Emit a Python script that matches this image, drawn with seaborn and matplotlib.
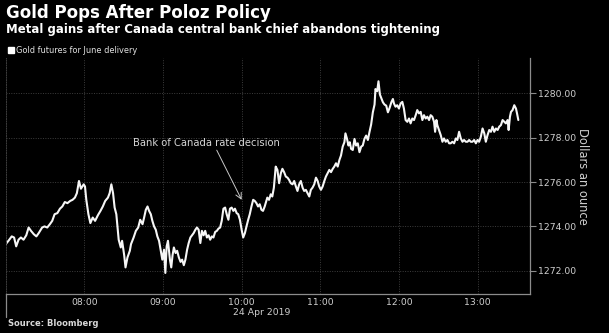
import numpy as np
import pandas as pd
import matplotlib
matplotlib.use("Agg")
import matplotlib.pyplot as plt
import matplotlib.dates as mdates
from matplotlib.lines import Line2D
import seaborn as sns

sns.set_theme(style="dark")
plt.rcParams['font.family'] = ['DejaVu Sans']

# ---- data: minutes after 07:00 (24 Apr 2019) and gold futures price ----
morning_minutes = [0.0, 2.1, 4.6, 6.4, 8.0, 9.8, 11.6, 13.6, 15.7, 17.5, 19.3, 21.4, 23.4, 25.2, 27.8,
                   29.6, 31.7, 33.7, 35.5, 37.3, 39.4, 41.4, 43.2, 45.1, 47.1, 49.2, 51.0, 52.8, 54.3, 55.9,
                   57.4, 59.5, 60.5, 61.5, 63.1, 64.6, 66.4, 68.2, 70.3, 72.3, 74.1, 75.9, 78.0, 79.3, 80.6,
                   81.9, 83.1, 84.4, 86.2, 87.8, 88.8, 90.4, 91.4, 92.9, 94.7]
morning_prices = [1273.2, 1273.35, 1273.55, 1273.5, 1273.1, 1273.4, 1273.5, 1273.4, 1273.6, 1273.95,
                  1273.8, 1273.65, 1273.55, 1273.7, 1273.95, 1274.0, 1273.95, 1274.1, 1274.25, 1274.55,
                  1274.6, 1274.8, 1274.9, 1275.1, 1275.05, 1275.15, 1275.2, 1275.3, 1275.5, 1276.05,
                  1275.7, 1275.9, 1275.8, 1275.2, 1274.55, 1274.15, 1274.4, 1274.25, 1274.5, 1274.7,
                  1274.9, 1275.15, 1275.3, 1275.5, 1275.9, 1275.5, 1274.85, 1274.55, 1273.4, 1273.05,
                  1273.35, 1272.7, 1272.15, 1272.6, 1272.9]

decision_minutes = [95.6, 97.6, 99.3, 101.1, 102.6, 104.4, 105.6, 106.9, 108.2, 109.4, 110.7, 111.9, 113.2,
                    114.5, 115.7, 117.0, 118.2, 119.5, 120.8, 121.8, 122.8, 123.8, 125.3, 126.3, 127.3,
                    128.3, 129.6, 130.8, 132.1, 133.4, 134.6, 135.9, 137.1, 138.4, 139.6, 140.9, 142.2,
                    143.4, 144.7, 145.9, 147.2, 148.5, 149.7, 151.0, 152.2, 153.5, 154.8, 156.0, 157.3,
                    158.5, 159.8, 161.1, 162.3, 163.6, 164.8, 166.1, 167.4, 168.6, 169.9, 171.1, 172.4,
                    173.7, 174.9, 176.2, 177.4, 178.7, 180.0, 181.2, 182.5, 183.7, 185.0, 186.2, 187.5,
                    188.8, 190.0, 191.3, 192.5, 193.8, 195.1, 196.3, 197.6]
decision_prices = [1273.2, 1273.5, 1273.8, 1273.95, 1274.3, 1274.1, 1274.4, 1274.75, 1274.9, 1274.7,
                   1274.55, 1274.25, 1274.0, 1273.85, 1273.55, 1273.35, 1272.95, 1272.5, 1272.95, 1271.9,
                   1273.1, 1273.35, 1272.5, 1272.15, 1272.7, 1273.05, 1272.8, 1272.9, 1272.6, 1272.4,
                   1272.5, 1272.25, 1272.5, 1272.95, 1273.25, 1273.5, 1273.6, 1273.7, 1273.85, 1273.95,
                   1273.85, 1273.25, 1273.8, 1273.6, 1273.8, 1273.5, 1273.6, 1273.4, 1273.55, 1273.5,
                   1273.75, 1273.8, 1273.9, 1273.95, 1274.25, 1274.8, 1274.85, 1274.55, 1274.3, 1274.8,
                   1274.85, 1274.7, 1274.8, 1274.6, 1274.55, 1274.3, 1273.85, 1273.5, 1273.7, 1274.0,
                   1274.3, 1274.55, 1274.9, 1275.2, 1275.15, 1275.05, 1274.9, 1275.0, 1274.75, 1274.7,
                   1274.9]

rally_minutes = [199.6, 200.9, 202.2, 203.4, 204.6, 206.0, 207.3, 208.6, 209.9, 211.1, 212.4, 213.7, 215.0,
                 216.2, 217.5, 218.8, 220.1, 221.4, 222.6, 223.9, 225.2, 226.5, 227.7, 229.0, 230.3,
                 231.6, 232.8, 234.1, 235.4, 236.7, 238.0, 239.2, 240.5, 241.8, 243.1, 244.3, 245.6,
                 246.9, 248.2, 249.5, 250.7, 252.0, 253.3, 254.6, 255.8, 257.1, 258.4, 259.2, 260.4,
                 261.5, 262.5, 263.5, 264.8, 266.1, 267.3, 268.6, 269.9, 271.2, 272.4, 273.7, 275.0,
                 276.3, 277.5, 278.8, 280.1, 281.4, 282.1, 283.4, 284.4, 285.5, 286.5, 287.8, 289.0,
                 290.3, 291.6, 292.9, 294.2, 295.4]
rally_prices = [1275.3, 1275.2, 1275.45, 1275.35, 1275.75, 1276.7, 1276.55, 1275.95, 1276.4, 1276.6,
                1276.45, 1276.25, 1276.2, 1276.1, 1275.95, 1275.9, 1276.05, 1275.8, 1275.6, 1275.9,
                1276.05, 1275.75, 1275.6, 1275.65, 1275.5, 1275.35, 1275.65, 1275.75, 1275.9, 1276.2,
                1276.05, 1275.8, 1275.65, 1275.8, 1276.05, 1276.25, 1276.4, 1276.55, 1276.45, 1276.6,
                1276.7, 1276.85, 1276.7, 1277.0, 1277.2, 1277.6, 1277.8, 1278.2, 1277.95, 1277.65,
                1277.8, 1277.5, 1277.45, 1277.95, 1277.65, 1277.75, 1277.35, 1277.6, 1277.65, 1277.95,
                1278.1, 1277.9, 1278.25, 1278.6, 1279.15, 1279.5, 1280.2, 1280.1, 1280.55, 1279.95,
                1279.8, 1279.6, 1279.5, 1279.45, 1279.15, 1279.35, 1279.6, 1279.75]

afternoon_minutes = [296.2, 297.4, 298.7, 300.0, 301.3, 302.6, 303.8, 305.1, 306.4, 307.7, 308.9, 310.2,
                     311.5, 312.8, 314.0, 315.3, 316.6, 317.9, 319.1, 320.4, 321.7, 323.0, 324.2, 325.5,
                     326.8, 327.6, 328.6, 329.3, 330.6, 331.9, 333.2, 334.4, 335.7, 337.0, 338.3, 339.5,
                     340.8, 342.1, 343.4, 344.6, 345.9, 347.2, 348.5, 349.7, 351.0, 352.3, 353.6, 354.8,
                     356.1, 357.4, 358.7, 360.0, 361.2, 362.5, 363.8, 365.1, 366.3, 367.6, 368.9, 370.2,
                     371.4, 372.7, 374.0, 375.3, 376.5, 377.8, 379.1, 380.4, 381.6, 382.9, 383.7, 384.7,
                     385.5, 386.7, 388.0, 389.3, 390.1, 391.1]
afternoon_prices = [1279.55, 1279.4, 1279.47, 1279.32, 1279.55, 1279.62, 1279.32, 1278.8, 1278.72, 1278.87,
                    1278.65, 1278.87, 1278.8, 1279.02, 1279.25, 1279.1, 1279.17, 1278.8, 1279.02, 1278.87,
                    1278.95, 1278.8, 1279.02, 1278.95, 1278.72, 1278.27, 1278.8, 1278.57, 1278.35, 1278.12,
                    1277.82, 1277.97, 1277.82, 1277.9, 1277.75, 1277.75, 1277.82, 1277.75, 1277.97, 1277.9,
                    1278.27, 1277.97, 1277.82, 1277.9, 1277.82, 1277.82, 1277.9, 1277.82, 1277.82, 1277.9,
                    1277.75, 1277.9, 1277.82, 1278.05, 1278.42, 1278.2, 1277.82, 1278.12, 1278.35, 1278.27,
                    1278.5, 1278.27, 1278.42, 1278.35, 1278.5, 1278.57, 1278.8, 1278.72, 1278.65, 1278.8,
                    1278.35, 1278.95, 1279.17, 1279.25, 1279.47, 1279.32, 1279.1, 1278.8]

y_ticks = [1272, 1274, 1276, 1278, 1280]
x_tick_hours = ["08:00", "09:00", "10:00", "11:00", "12:00", "13:00"]
day = "2019-04-24"
session_start = "07:00"
session_end = "13:40"
decision_time = "10:00"

title = "Gold Pops After Poloz Policy"
subtitle = "Metal gains after Canada central bank chief abandons tightening"
series_name = "Gold futures for June delivery"
annotation = "Bank of Canada rate decision"
y_label = "Dollars an ounce"
date_label = "24 Apr 2019"
source = "Source: Bloomberg"

# ---- build frame ----
start = pd.Timestamp(f"{day} {session_start}")
minutes = morning_minutes + decision_minutes + rally_minutes + afternoon_minutes
prices = morning_prices + decision_prices + rally_prices + afternoon_prices
df = pd.DataFrame({"time": start + pd.to_timedelta(minutes, unit="min"), "price": prices})

W, H = 609, 333
fig = plt.figure(figsize=(W / 100, H / 100), dpi=100, facecolor="black")
L, R, T, B = 5.7, 530, 58, 294
ax = fig.add_axes([L / W, 1 - B / H, (R - L) / W, (B - T) / H])
ax.set_facecolor("black")

sns.lineplot(data=df, x="time", y="price", ax=ax, color="#f6f6f6", linewidth=1.5,
             estimator=None, legend=False)

ax.set_xlim(start, pd.Timestamp(f"{day} {session_end}"))
ax.set_ylim(1270.95, 1281.6)

grid_color = "#3d3d3d"
axis_color = "#8c8c8c"
text_color = "#cfcfcf"

# y axis on the right
ax.yaxis.tick_right()
ax.yaxis.set_label_position("right")
ax.set_yticks(y_ticks)
ax.set_yticklabels([f"{v:.2f}" for v in y_ticks])
ax.tick_params(axis="y", which="major", colors=text_color, labelsize=6.7, length=4,
               width=0.8, color=axis_color, pad=1.5, right=True, left=False)
ax.set_ylabel(y_label, rotation=-90, color=text_color, fontsize=8.3)
ax.yaxis.label.set_verticalalignment("center")
ax.yaxis.label.set_horizontalalignment("center")
ax.yaxis.label.set_rotation_mode("default")
ax.yaxis.set_label_coords((582.5 - L) / (R - L), (B - 176.7) / (B - T))

# x axis
ax.set_xticks([pd.Timestamp(f"{day} {h}") for h in x_tick_hours])
ax.xaxis.set_major_formatter(mdates.DateFormatter("%H:%M"))
ax.xaxis.set_minor_locator(mdates.MinuteLocator(byminute=[30]))
ax.tick_params(axis="x", which="major", colors=text_color, labelsize=6.7, length=0, pad=3)
ax.tick_params(axis="x", which="minor", length=3, width=0.8, color=axis_color, direction="inout")
ax.set_xlabel("")

# grid
ax.grid(True, which="major", axis="both", color=grid_color, linestyle=(0, (1, 1.5)), linewidth=0.7)
ax.grid(False, which="minor")

# spines
ax.spines["top"].set_visible(False)
ax.spines["left"].set_color(grid_color)
ax.spines["left"].set_linestyle((0, (1, 1.5)))
ax.spines["left"].set_linewidth(0.7)
ax.spines["bottom"].set_color(axis_color)
ax.spines["bottom"].set_linewidth(0.9)
ax.spines["right"].set_color(axis_color)
ax.spines["right"].set_linewidth(0.9)

# day marker tick at session start
ax.axvline(start, ymin=-(317 - B) / (B - T), ymax=0, clip_on=False, color=axis_color, linewidth=0.9)
ax.text((262 - L) / (R - L), -(312.7 - B) / (B - T), date_label, transform=ax.transAxes,
        ha="center", va="center", color=text_color, fontsize=6.7)

# annotation
t_dec = pd.Timestamp(f"{day} {decision_time}")
ax.text(start + pd.Timedelta(minutes=152.8), 1277.76, annotation, ha="center", va="center",
        color="#d6d6d6", fontsize=7.2)
ax.annotate("", xy=(t_dec, 1275.2), xytext=(start + pd.Timedelta(minutes=161), 1277.44),
            arrowprops=dict(arrowstyle="->,head_length=0.35,head_width=0.18", color="#c8c8c8",
                            linewidth=0.7, shrinkA=0, shrinkB=0))

# legend
handle = Line2D([], [], marker="s", color="white", linestyle="none", markersize=3.8)
fig.legend(handles=[handle], labels=[series_name], loc="center left",
           bbox_to_anchor=(9 / W, 1 - 50.5 / H), bbox_transform=fig.transFigure,
           frameon=False, fontsize=5.95, labelcolor="#e0e0e0", handlelength=0.6,
           handletextpad=0.25, borderpad=0, borderaxespad=0)

# titles
fig.text(6 / W, 1 - 13.5 / H, title, color="white", fontsize=12, fontweight="bold", va="center", ha="left")
fig.text(6 / W, 1 - 30 / H, subtitle, color="white", fontsize=8.5, fontweight="bold", va="center", ha="left")
fig.text(8 / W, 1 - 324 / H, source, color="#d8d8d8", fontsize=6, fontweight="bold", va="center", ha="left")

fig.savefig("out.png", dpi=100, facecolor="black")
